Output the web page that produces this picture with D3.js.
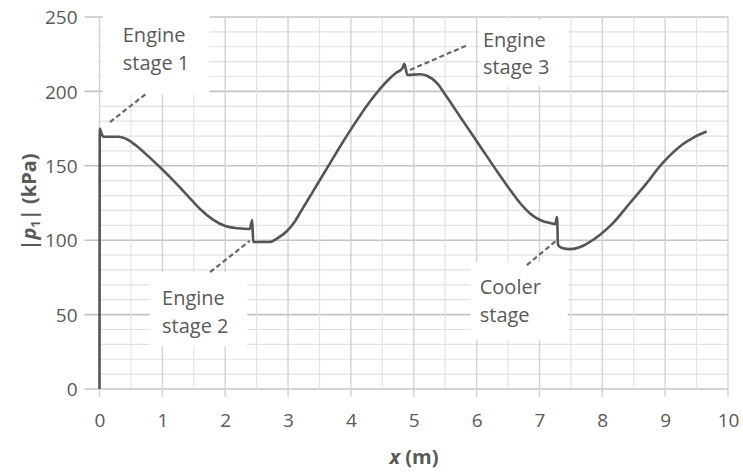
<!DOCTYPE html>
<html><head><meta charset="utf-8">
<script src="https://cdn.jsdelivr.net/npm/d3@7"></script>
<style>
body{margin:0;background:#fff;}
text{font-family:"Open Sans",sans-serif;fill:#595959;}
</style></head>
<body><svg id="c" width="743" height="472"></svg>
<script>
// Data: |p1| (kPa) along x (m)
const xs = [0,0.005,0.03,0.06,0.3,0.45,0.6,0.8,1.0,1.2,1.4,1.6,1.8,2.0,2.2,2.39,2.43,2.445,2.55,2.71,2.84,2.98,3.1,3.2,3.3,3.4,3.55,3.7,3.85,4.0,4.15,4.3,4.45,4.6,4.72,4.82,4.85,4.9,5.1,5.21,5.37,5.53,5.69,5.85,6.01,6.17,6.33,6.53,6.69,6.85,7.01,7.17,7.25,7.28,7.295,7.36,7.49,7.65,7.8,7.96,8.17,8.44,8.71,8.92,9.03,9.28,9.45,9.66];
const ps = [0,175,172,169.5,169.5,167.5,163,155.5,147.5,139,130,121,114,109.5,108,107.5,113.6,98.8,98.8,98.8,101.5,106,112,119,126,133,143.5,154,164.5,174.5,184,193,201,208,212.5,215.5,218.5,211,211.5,210.5,205.6,196,186,176,166,156,146,134,125,118,113.6,111.5,111,115.6,96.8,94.8,94,95.4,98.8,103.5,111.5,125,138.5,150,155,164.5,169,173];
const xTicks = [0,1,2,3,4,5,6,7,8,9,10];
const yTicks = [0,50,100,150,200,250];
// Annotation labels (lines of text) and anchor points in data units
const annLines = [["Engine","stage 1"],["Engine","stage 2"],["Engine","stage 3"],["Cooler","stage"]];
const annText = [[0.37,233],[0.995,56.3],[6.1,230],[6.05,63.8]];   // text left / first baseline
const annBox = [[0.05,253,1.75,198],[0.8,78.5,2.35,28.7],[6.05,248,7.45,204],[5.9,85,7.45,33]];
const annLead = [[0.167,179.4,0.756,198.9],[1.76,78.6,2.39,99.5],[4.94,214.4,5.86,231.2],[6.8,83.3,7.28,100.1]];

const svg = d3.select("#c");
const x = d3.scaleLinear().domain([0,10]).range([99.5,728]);
const y = d3.scaleLinear().domain([0,250]).range([389,17]);

// grid
const g = svg.append("g");
d3.range(0,250.1,10).forEach(v=>{
  const major = v%50===0;
  g.append("line").attr("x1",x(0)-(major?15:0)).attr("x2",x(10))
   .attr("y1",y(v)).attr("y2",y(v))
   .attr("stroke",major?"#c4c4c4":"#e2e2e2").attr("stroke-width",major?1.6:1.2);
});
d3.range(0,10.01,0.5).forEach(v=>{
  const major = Math.abs(v-Math.round(v))<1e-6;
  g.append("line").attr("x1",x(v)).attr("x2",x(v))
   .attr("y1",y(250)).attr("y2",y(0)+(major?8:0))
   .attr("stroke",major?"#d2d2d2":"#e4e4e4").attr("stroke-width",major?1.4:1.2);
});

// white label boxes
annBox.forEach(b=>{
  svg.append("rect").attr("x",x(b[0])).attr("y",y(b[1]))
    .attr("width",x(b[2])-x(b[0])).attr("height",y(b[3])-y(b[1])).attr("fill","#fff");
});

// axes tick labels
const yAxis = d3.axisLeft(y).tickValues(yTicks).tickSize(0).tickPadding(22);
svg.append("g").attr("transform",`translate(${x(0)},0)`).call(yAxis)
  .call(s=>{s.select(".domain").remove(); s.selectAll("text").attr("font-size",19).attr("font-family","Open Sans").attr("fill","#595959").attr("dy","0.35em");});
const xAxis = d3.axisBottom(x).tickValues(xTicks).tickSize(0).tickPadding(25);
svg.append("g").attr("transform",`translate(0,${y(0)})`).call(xAxis)
  .call(s=>{s.select(".domain").remove(); s.selectAll("text").attr("font-size",19).attr("font-family","Open Sans").attr("fill","#595959");});

// curve
const line = d3.line().x((d,i)=>x(xs[i])).y((d,i)=>y(ps[i])).curve(d3.curveMonotoneX);
svg.append("path").attr("d",line(xs)).attr("fill","none")
  .attr("stroke","#555").attr("stroke-width",2.6).attr("stroke-linejoin","round");

// leaders
annLead.forEach(l=>{
  svg.append("line").attr("x1",x(l[0])).attr("y1",y(l[1])).attr("x2",x(l[2])).attr("y2",y(l[3]))
   .attr("stroke","#666").attr("stroke-width",2.2).attr("stroke-dasharray","5,3");
});

// annotation texts
annLines.forEach((ls,i)=>{
  const t = svg.append("text").attr("x",x(annText[i][0])).attr("y",y(annText[i][1])).attr("font-size",20);
  ls.forEach((s,j)=>t.append("tspan").attr("x",x(annText[i][0])).attr("dy",j?27.5:0).text(s));
});

// axis titles
const xt = svg.append("text").attr("x",414).attr("y",464).attr("text-anchor","middle")
  .attr("font-size",20).attr("font-weight","bold");
xt.append("tspan").attr("font-style","italic").text("x");
xt.append("tspan").text(" (m)");

const yt = svg.append("text").attr("transform","translate(36,202) rotate(-90)")
  .attr("text-anchor","middle").attr("font-size",20).attr("font-weight","bold");
yt.append("tspan").text("|");
yt.append("tspan").attr("font-style","italic").text("p");
yt.append("tspan").attr("font-size",13).attr("dy",4).text("1");
yt.append("tspan").attr("dy",-4).text("| (kPa)");
</script></body></html>
